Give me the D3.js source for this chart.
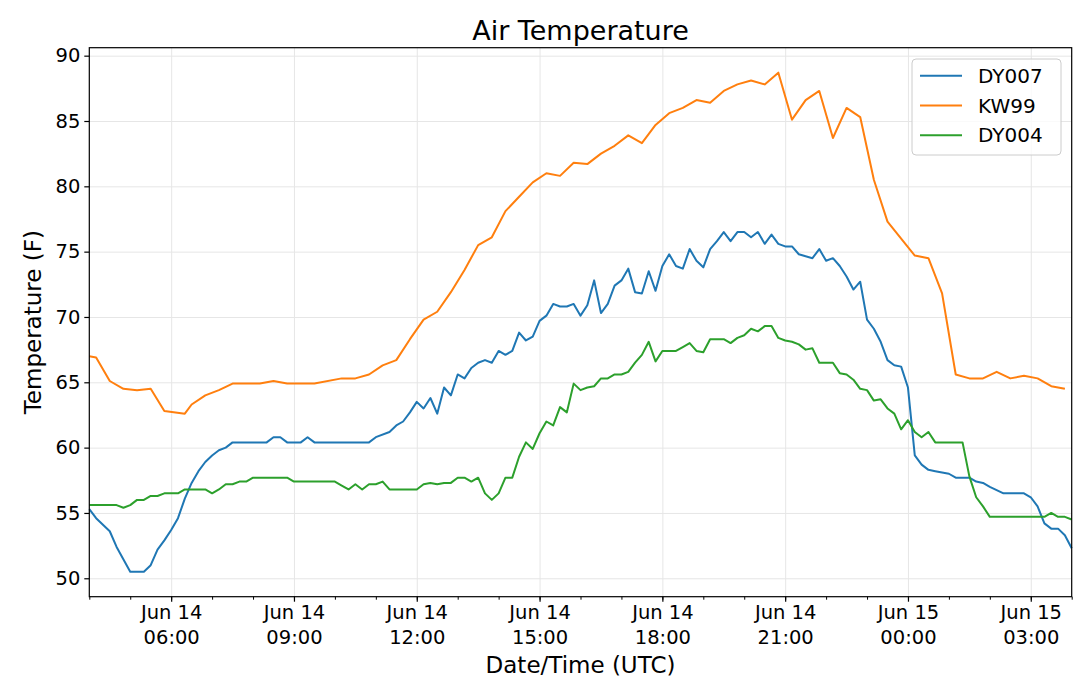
<!DOCTYPE html>
<html>
<head>
<meta charset="utf-8">
<script src="https://cdn.jsdelivr.net/npm/d3@7"></script>
<style>
  body { margin: 0; background: #fff; }
  text { font-family: "DejaVu Sans", sans-serif; fill: #000; }
</style>
</head>
<body>
<svg width="1080" height="689"></svg>
<script>
// minutes after Jun 14 04:00 UTC, temperatures in F
const dy007Minutes = [0, 10, 30, 40, 60, 80, 90, 100, 110, 120, 130, 140, 150, 160, 170, 180, 190, 200, 210,
  260, 270, 280, 290, 310, 320, 330, 410, 420, 440, 450, 460, 470, 480, 490, 500, 510, 520, 530, 540, 550,
  560, 570, 580, 590, 600, 610, 620, 630, 640, 650, 660, 670, 680, 690, 700, 710, 720, 730, 740, 750, 760,
  770, 780, 790, 800, 810, 820, 830, 840, 850, 860, 870, 880, 890, 900, 910, 920, 930, 940, 950, 960, 970,
  980, 990, 1000, 1010, 1020, 1030, 1040, 1060, 1070, 1080, 1090, 1100, 1110, 1120, 1130, 1140, 1150, 1160,
  1170, 1180, 1190, 1200, 1210, 1220, 1230, 1240, 1250, 1260, 1270, 1290, 1300, 1310, 1320, 1340, 1370,
  1380, 1390, 1400, 1410, 1420, 1430, 1440];
const dy007Temps = [55.3, 54.6, 53.6, 52.4, 50.5, 50.5, 51.0, 52.2, 52.9, 53.7, 54.6, 56.1, 57.3, 58.2, 58.9, 59.4, 59.8, 60.0, 60.4,
  60.4, 60.8, 60.8, 60.4, 60.4, 60.8, 60.4, 60.4, 60.8, 61.2, 61.7, 62.0, 62.7, 63.5, 63.0, 63.8, 62.6, 64.6, 64.0, 65.6, 65.3,
  66.1, 66.5, 66.7, 66.5, 67.4, 67.1, 67.4, 68.8, 68.2, 68.5, 69.7, 70.1, 71.0, 70.8, 70.8, 71.0, 70.1, 70.9, 72.8, 70.3, 71.0,
  72.4, 72.8, 73.7, 71.9, 71.8, 73.5, 72.0, 73.9, 74.8, 73.9, 73.7, 75.2, 74.3, 73.8, 75.2, 75.8, 76.5, 75.8, 76.5, 76.5, 76.1,
  76.5, 75.6, 76.3, 75.6, 75.4, 75.4, 74.8, 74.5, 75.2, 74.3, 74.5, 73.9, 73.1, 72.1, 72.7, 69.8, 69.1, 68.1,
  66.7, 66.3, 66.2, 64.6, 59.4, 58.7, 58.3, 58.2, 58.1, 58.0, 57.7, 57.7, 57.4, 57.3, 57.0, 56.5, 56.5,
  56.2, 55.5, 54.2, 53.8, 53.8, 53.3, 52.3];

const kw99Minutes = [0, 10, 30, 50, 70, 90, 110, 140, 150, 170, 190, 210, 250, 270, 290, 330, 370, 390, 410, 430,
  450, 470, 490, 510, 530, 550, 570, 590, 610, 630, 650, 670, 690, 710, 730, 750, 770, 790, 810, 830, 850,
  870, 890, 910, 930, 950, 970, 990, 1010, 1030, 1050, 1070, 1090, 1110, 1130, 1150, 1170, 1190, 1210,
  1230, 1250, 1270, 1290, 1310, 1330, 1350, 1370, 1390, 1410, 1430];
const kw99Temps = [67.0, 66.9, 65.1, 64.5, 64.4, 64.5, 62.8, 62.6, 63.3, 64.0, 64.4, 64.9, 64.9, 65.1, 64.9, 64.9, 65.3, 65.3, 65.6, 66.3,
  66.7, 68.3, 69.8, 70.4, 71.9, 73.6, 75.5, 76.1, 78.1, 79.2, 80.3, 81.0, 80.8, 81.8, 81.7, 82.5, 83.1, 83.9, 83.3, 84.7, 85.6,
  86.0, 86.6, 86.4, 87.3, 87.8, 88.1, 87.8, 88.7, 85.1, 86.6, 87.3, 83.7, 86.0, 85.3, 80.5, 77.3, 76.0, 74.7,
  74.5, 71.8, 65.6, 65.3, 65.3, 65.8, 65.3, 65.5, 65.3, 64.7, 64.5];

const dy004Minutes = [0, 40, 50, 60, 70, 80, 90, 100, 110, 130, 140, 170, 180, 190, 200, 210, 220, 230, 240, 290,
  300, 360, 370, 380, 390, 400, 410, 420, 430, 440, 480, 490, 500, 510, 520, 530, 540, 550, 560, 570, 580,
  590, 600, 610, 620, 630, 640, 650, 660, 670, 680, 690, 700, 710, 720, 730, 740, 750, 760, 770, 780, 790,
  800, 810, 820, 830, 840, 850, 860, 870, 880, 890, 900, 910, 920, 930, 940, 950, 960, 970, 980, 990, 1000,
  1010, 1020, 1030, 1040, 1050, 1060, 1070, 1090, 1100, 1110, 1120, 1130, 1140, 1150, 1160, 1170, 1180,
  1190, 1200, 1210, 1220, 1230, 1240, 1280, 1290, 1300, 1310, 1320, 1400, 1410, 1420, 1430, 1440];
const dy004Temps = [55.6, 55.6, 55.4, 55.6, 56.0, 56.0, 56.3, 56.3, 56.5, 56.5, 56.8, 56.8, 56.5, 56.8, 57.2, 57.2, 57.4, 57.4, 57.7, 57.7,
  57.4, 57.4, 57.1, 56.8, 57.2, 56.8, 57.2, 57.2, 57.4, 56.8, 56.8, 57.2, 57.3, 57.2, 57.3, 57.3, 57.7, 57.7, 57.4, 57.7, 56.5,
  56.0, 56.5, 57.7, 57.7, 59.3, 60.4, 59.9, 61.1, 62.0, 61.7, 63.1, 62.7, 64.9, 64.4, 64.6, 64.7, 65.3, 65.3, 65.6, 65.6, 65.8,
  66.5, 67.1, 68.1, 66.6, 67.4, 67.4, 67.4, 67.7, 68.0, 67.4, 67.3, 68.3, 68.3, 68.3, 68.0, 68.4, 68.6, 69.1, 68.9, 69.3, 69.3,
  68.4, 68.2, 68.1, 67.9, 67.5, 67.6, 66.5, 66.5, 65.7, 65.6, 65.2, 64.5, 64.4, 63.6, 63.7, 63.0, 62.6,
  61.4, 62.1, 61.2, 60.8, 61.2, 60.4, 60.4, 57.8, 56.2, 55.5, 54.7, 54.7, 55.0, 54.7, 54.7, 54.5];

const seriesNames = ['DY007', 'KW99', 'DY004'];
const seriesColors = ['#1f77b4', '#ff7f0e', '#2ca02c'];
const yTicks = [50, 55, 60, 65, 70, 75, 80, 85, 90];

const start = Date.UTC(2019, 5, 14, 4, 0);
const toDate = m => new Date(start + m * 60000);

const series = [
  dy007Minutes.map((m, i) => ({ t: toDate(m), v: dy007Temps[i] })),
  kw99Minutes.map((m, i) => ({ t: toDate(m), v: kw99Temps[i] })),
  dy004Minutes.map((m, i) => ({ t: toDate(m), v: dy004Temps[i] }))
];

const svg = d3.select('svg');
const plotLeft = 89.3, plotRight = 1071.7, plotTop = 47.7, plotBottom = 596.7;

const allPoints = series.flat();
const x = d3.scaleUtc()
  .domain(d3.extent(allPoints, d => d.t))
  .range([plotLeft, plotRight]);

const [lo, hi] = d3.extent(allPoints, d => d.v);
const pad = (hi - lo) * 0.05;
const y = d3.scaleLinear()
  .domain([lo - pad, hi + pad])
  .range([plotBottom, plotTop]);

// grid
svg.append('g')
  .attr('transform', `translate(0,${plotBottom})`)
  .call(d3.axisBottom(x).ticks(d3.utcHour.every(3)).tickSize(-(plotBottom - plotTop)).tickFormat(''))
  .call(g => g.select('.domain').remove())
  .call(g => g.selectAll('line').attr('stroke', '#e6e6e6').attr('stroke-width', 1));
svg.append('g')
  .attr('transform', `translate(${plotLeft},0)`)
  .call(d3.axisLeft(y).tickValues(yTicks).tickSize(-(plotRight - plotLeft)).tickFormat(''))
  .call(g => g.select('.domain').remove())
  .call(g => g.selectAll('line').attr('stroke', '#e6e6e6').attr('stroke-width', 1));

// lines
const line = d3.line().x(d => x(d.t)).y(d => y(d.v));
series.forEach((s, i) => svg.append('path')
  .datum(s)
  .attr('fill', 'none')
  .attr('stroke', seriesColors[i])
  .attr('stroke-width', 2)
  .attr('stroke-linejoin', 'round')
  .attr('d', line));

// axes
const fmtDay = d3.utcFormat('%b %d');
const fmtTime = d3.utcFormat('%H:%M');

svg.append('g')
  .attr('transform', `translate(0,${plotBottom})`)
  .call(d3.axisBottom(x).ticks(d3.utcHour.every(1)).tickSize(3).tickFormat(''))
  .call(g => g.select('.domain').remove())
  .call(g => g.selectAll('line').attr('stroke', '#000').attr('stroke-width', 1));

const xAxis = svg.append('g')
  .attr('transform', `translate(0,${plotBottom})`)
  .call(d3.axisBottom(x).ticks(d3.utcHour.every(3)).tickSize(5).tickPadding(3.5).tickFormat(''));
xAxis.select('.domain').remove();
xAxis.selectAll('line').attr('stroke', '#000').attr('stroke-width', 1.2);
xAxis.selectAll('.tick text').each(function(d) {
  const t = d3.select(this).attr('dy', null).attr('font-size', 19.5).attr('fill', '#000');
  t.append('tspan').attr('x', 0).attr('dy', '0.71em').text(fmtDay(d));
  t.append('tspan').attr('x', 0).attr('dy', '1.28em').text(fmtTime(d));
});

const yAxis = svg.append('g')
  .attr('transform', `translate(${plotLeft},0)`)
  .call(d3.axisLeft(y).tickValues(yTicks).tickSize(5).tickPadding(4));
yAxis.select('.domain').remove();
yAxis.selectAll('line').attr('stroke', '#000').attr('stroke-width', 1.2);
yAxis.selectAll('text').attr('font-size', 19.5).attr('fill', '#000');

// frame
svg.append('rect')
  .attr('x', plotLeft).attr('y', plotTop)
  .attr('width', plotRight - plotLeft).attr('height', plotBottom - plotTop)
  .attr('fill', 'none').attr('stroke', '#000').attr('stroke-width', 1.2);

// labels
svg.append('text')
  .attr('x', (plotLeft + plotRight) / 2).attr('y', 40)
  .attr('text-anchor', 'middle').attr('font-size', 27)
  .text('Air Temperature');
svg.append('text')
  .attr('x', (plotLeft + plotRight) / 2).attr('y', 673)
  .attr('text-anchor', 'middle').attr('font-size', 23)
  .text('Date/Time (UTC)');
svg.append('text')
  .attr('transform', `translate(33,${(plotTop + plotBottom) / 2}) rotate(-90)`)
  .attr('text-anchor', 'middle').attr('dy', '0.35em').attr('font-size', 23)
  .text('Temperature (F)');

// legend
const legend = svg.append('g');
legend.append('rect')
  .attr('x', 912).attr('y', 59).attr('width', 149).attr('height', 96).attr('rx', 4)
  .attr('fill', '#fff').attr('fill-opacity', 0.8)
  .attr('stroke', '#cccccc').attr('stroke-width', 1);
seriesNames.forEach((name, i) => {
  const ly = 75.7 + i * 29.8;
  legend.append('line')
    .attr('x1', 920).attr('x2', 962).attr('y1', ly).attr('y2', ly)
    .attr('stroke', seriesColors[i]).attr('stroke-width', 2);
  legend.append('text')
    .attr('x', 978).attr('y', ly).attr('dy', '0.35em').attr('font-size', 20)
    .text(name);
});
</script>
</body>
</html>
